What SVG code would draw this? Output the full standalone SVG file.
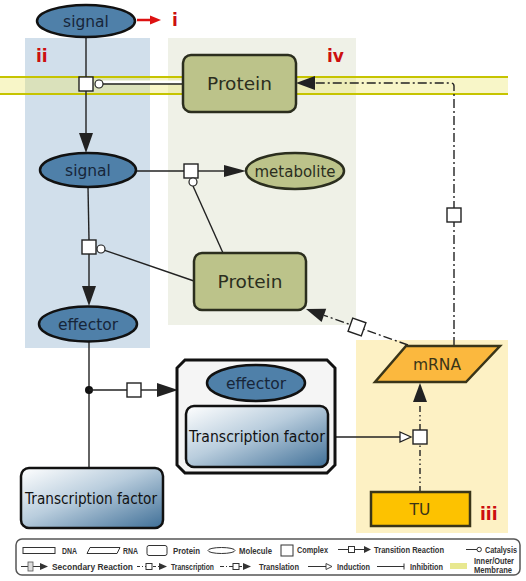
<svg xmlns="http://www.w3.org/2000/svg" width="526" height="581" viewBox="0 0 526 581">
<defs>
<linearGradient id="tfg" x1="0" y1="0" x2="1" y2="1">
<stop offset="0" stop-color="#ffffff"/>
<stop offset="0.45" stop-color="#b9cddd"/>
<stop offset="1" stop-color="#3f6f97"/>
</linearGradient>
<style>
.t{font-family:"DejaVu Sans","Liberation Sans",sans-serif;text-anchor:middle}
.mol{fill:#4f80a9;stroke:#111;stroke-width:2.5}
.mt{fill:#17263a;font-size:15.5px}
.ol{fill:#bcc38a;stroke:#2b2e1e;stroke-width:2.5}
.olt{fill:#2b2e1e}
.ln{stroke:#222;stroke-width:1.4;fill:none}
.ah{fill:#222;stroke:none}
.sq{fill:#fff;stroke:#222;stroke-width:1.4}
.cc{fill:#fff;stroke:#222;stroke-width:1.2}
.tr{stroke:#222;stroke-width:1.4;fill:none;stroke-dasharray:9 3 2 3}
.tc{stroke:#222;stroke-width:1.4;fill:none;stroke-dasharray:6 3 1.5 3 1.5 3}
.red{fill:#cc0f0f;font-family:"DejaVu Sans","Liberation Sans",sans-serif;font-weight:bold;font-size:17px}
.lg{font-family:"Liberation Sans",Arial,sans-serif;font-weight:bold;font-size:8.4px;fill:#333}
.ls{stroke:#333;stroke-width:1;fill:none}
.mem{stroke:#c6c400;stroke-width:2}
</style>
</defs>
<g id="panels">
<rect x="25" y="38" width="125" height="310" fill="#d1dfeb"/>
<rect x="168" y="38" width="188" height="287" fill="#eff1e7"/>
<rect x="356" y="340" width="152" height="193" fill="#fdf1c4"/>
</g>
<g id="membrane">
<rect x="0" y="77" width="508" height="17" fill="#ece660" fill-opacity="0.35"/>
<line class="mem" x1="0" y1="77" x2="508" y2="77"/>
<line class="mem" x1="0" y1="94" x2="508" y2="94"/>
</g>
<g id="region-labels">
<line x1="137" y1="20" x2="151" y2="20" stroke="#dd1111" stroke-width="2.5"/>
<polygon points="150,15.5 161,20 150,24.5" fill="#dd1111"/>
<text class="red" x="172" y="26">i</text>
<text class="red" x="36" y="62">ii</text>
<text class="red" x="480" y="520">iii</text>
<text class="red" x="327" y="62">iv</text>
</g>
<g id="connectors">
<line class="ln" x1="86" y1="37" x2="86" y2="77"/>
<line class="ln" x1="86" y1="91" x2="86" y2="134"/>
<polygon class="ah" points="79,133 93,133 86,153"/>
<line x1="103" y1="82" x2="183" y2="82" stroke="#fff" stroke-width="3"/>
<line class="ln" x1="103" y1="84" x2="183" y2="84"/>
<line class="ln" x1="136" y1="171" x2="184" y2="171"/>
<line class="ln" x1="198" y1="171" x2="226" y2="171"/>
<polygon class="ah" points="224,165 246,171 224,177"/>
<line class="ln" x1="193" y1="186" x2="223" y2="253"/>
<line class="ln" x1="88" y1="187" x2="89" y2="240"/>
<line class="ln" x1="89" y1="254" x2="89" y2="288"/>
<polygon class="ah" points="82,286 96,286 89,306"/>
<line class="ln" x1="104.8" y1="250.3" x2="194" y2="281"/>
<line class="ln" x1="89" y1="342" x2="89" y2="468"/>
<circle cx="89" cy="390" r="4" fill="#111"/>
<line class="ln" x1="89" y1="390" x2="127" y2="390"/>
<line class="ln" x1="141" y1="390" x2="159" y2="390"/>
<polygon class="ah" points="157,383 178,390 157,397"/>
<line class="ln" x1="328" y1="437" x2="400" y2="437"/>
<polygon points="400,432 411,437 400,442" fill="#fff" stroke="#222" stroke-width="1.3"/>
<line class="tc" x1="420" y1="492" x2="420" y2="444"/>
<line class="tc" x1="420" y1="430" x2="420" y2="403"/>
<polygon class="ah" points="413,402 420,383 427,402"/>
<path class="tr" d="M454,346 V86 Q454,83 451,83 H314"/>
<polygon class="ah" points="315,76 296,83 315,90"/>
<line class="tr" x1="408" y1="345" x2="324" y2="315.3"/>
<polygon class="ah" points="326.2,308.7 306,309 321.6,321.9"/>
</g>
<g id="reaction-boxes">
<rect class="sq" x="79" y="77" width="14" height="14"/>
<circle class="cc" cx="99" cy="84" r="4"/>
<rect class="sq" x="184" y="164" width="14" height="14"/>
<circle class="cc" cx="193" cy="182" r="4"/>
<rect class="sq" x="82" y="240" width="14" height="14"/>
<circle class="cc" cx="101" cy="249" r="4"/>
<rect class="sq" x="127" y="383" width="14" height="14"/>
<rect class="sq" x="413" y="430" width="14" height="14"/>
<rect class="sq" x="447" y="208" width="14" height="14"/>
<rect class="sq" x="350" y="320" width="14" height="14" transform="rotate(19.4 357 327)"/>
</g>
<g id="node-signal-top">
<ellipse class="mol" cx="86" cy="21" rx="49" ry="16"/>
<text class="t mt" x="86" y="26.5">signal</text>
</g>
<g id="node-protein-membrane">
<rect class="ol" x="183" y="55" width="113" height="57" rx="8"/>
<text class="t olt" x="239.5" y="90" font-size="18.5">Protein</text>
</g>
<g id="node-signal">
<ellipse class="mol" cx="88" cy="170" rx="48" ry="17"/>
<text class="t mt" x="88" y="175.5">signal</text>
</g>
<g id="node-metabolite">
<ellipse class="ol" cx="295" cy="171" rx="49" ry="18"/>
<text class="t olt" x="295" y="176.5" font-size="15">metabolite</text>
</g>
<g id="node-protein">
<rect class="ol" x="194" y="253" width="112" height="57" rx="8"/>
<text class="t olt" x="250" y="288" font-size="18.5">Protein</text>
</g>
<g id="node-effector">
<ellipse class="mol" cx="88" cy="324" rx="49" ry="17.5"/>
<text class="t mt" x="88" y="329.5">effector</text>
</g>
<g id="node-complex">
<polygon points="185,360 327,360 335,368 335,465 327,473 185,473 177,465 177,368" fill="#f5f5f5" stroke="#111" stroke-width="3"/>
<ellipse class="mol" cx="256" cy="383" rx="49" ry="18"/>
<text class="t mt" x="256" y="388.5">effector</text>
<rect x="186" y="406" width="142" height="61" rx="8" fill="url(#tfg)" stroke="#111" stroke-width="2.5"/>
<text class="t" x="257" y="442" font-size="15" fill="#111" textLength="136" lengthAdjust="spacingAndGlyphs">Transcription factor</text>
</g>
<g id="node-tf">
<rect x="21" y="468" width="142" height="60" rx="8" fill="url(#tfg)" stroke="#111" stroke-width="2.5"/>
<text class="t" x="91" y="504" font-size="15" fill="#111" textLength="132" lengthAdjust="spacingAndGlyphs">Transcription factor</text>
</g>
<g id="node-mrna">
<polygon points="406,346 500,346 466,382 375,382" fill="#fbb83e" stroke="#3a3518" stroke-width="2.5"/>
<text class="t" x="437" y="370" font-size="15.5" fill="#3a3518">mRNA</text>
</g>
<g id="node-tu">
<rect x="371" y="492" width="99" height="34" fill="#fdc200" stroke="#3a3518" stroke-width="2.5"/>
<text class="t" x="420" y="515" font-size="15.5" fill="#3a3518">TU</text>
</g>
<g id="legend">
<rect x="16" y="539" width="504" height="36" rx="6" fill="#fff" stroke="#555" stroke-width="1.5"/>
<rect class="ls" x="23" y="547.5" width="32" height="6"/>
<text class="lg" x="62" y="554" textLength="15" lengthAdjust="spacingAndGlyphs">DNA</text>
<polygon class="ls" points="90,547.5 120,547.5 117,553.5 87,553.5"/>
<text class="lg" x="123" y="554" textLength="15" lengthAdjust="spacingAndGlyphs">RNA</text>
<rect class="ls" x="147" y="545.5" width="20" height="10" rx="2"/>
<text class="lg" x="173" y="554" textLength="27" lengthAdjust="spacingAndGlyphs">Protein</text>
<ellipse class="ls" cx="221.5" cy="550.5" rx="13.5" ry="3"/>
<text class="lg" x="239" y="554" textLength="33" lengthAdjust="spacingAndGlyphs">Molecule</text>
<rect class="ls" x="281" y="545" width="12" height="11"/>
<text class="lg" x="297" y="553" textLength="31" lengthAdjust="spacingAndGlyphs">Complex</text>
<line class="ls" x1="338" y1="549.5" x2="365" y2="549.5"/>
<rect x="348.5" y="546.5" width="6" height="6" fill="#fff" stroke="#333"/>
<polygon points="364,546 371,549.5 364,553" fill="#333"/>
<text class="lg" x="374" y="553" textLength="70" lengthAdjust="spacingAndGlyphs">Transition Reaction</text>
<line class="ls" x1="466" y1="549.5" x2="477" y2="549.5"/>
<circle cx="479.2" cy="549.5" r="2.2" fill="#fff" stroke="#333"/>
<text class="lg" x="485" y="553" textLength="32" lengthAdjust="spacingAndGlyphs">Catalysis</text>
<line class="ls" x1="21" y1="566.5" x2="42" y2="566.5"/>
<rect x="28" y="562" width="5" height="9" fill="#ddd" stroke="#555" stroke-width="0.8"/>
<polygon points="40,563 48,566.5 40,570" fill="#333"/>
<text class="lg" x="52" y="569.5" textLength="81" lengthAdjust="spacingAndGlyphs">Secondary Reaction</text>
<line x1="137" y1="566.5" x2="159" y2="566.5" stroke="#333" stroke-width="1" stroke-dasharray="3 2 1 2"/>
<rect x="146" y="563.5" width="6" height="6" fill="#fff" stroke="#333"/>
<polygon points="159,563 167,566.5 159,570" fill="#333"/>
<text class="lg" x="171" y="569.5" textLength="43" lengthAdjust="spacingAndGlyphs">Transcription</text>
<line x1="220" y1="566.5" x2="244" y2="566.5" stroke="#333" stroke-width="1" stroke-dasharray="4 2 1 2"/>
<rect x="233" y="563.5" width="6" height="6" fill="#fff" stroke="#333"/>
<polygon points="243,563 251,566.5 243,570" fill="#333"/>
<text class="lg" x="259" y="569.5" textLength="40" lengthAdjust="spacingAndGlyphs">Translation</text>
<line class="ls" x1="308" y1="566.5" x2="326" y2="566.5"/>
<polygon points="326,563.5 332,566.5 326,569.5" fill="#fff" stroke="#333" stroke-width="0.9"/>
<text class="lg" x="337" y="569.5" textLength="33" lengthAdjust="spacingAndGlyphs">Induction</text>
<line class="ls" x1="377" y1="566.5" x2="404" y2="566.5"/>
<line class="ls" x1="404" y1="563.5" x2="404" y2="569.5"/>
<text class="lg" x="410" y="569.5" textLength="33" lengthAdjust="spacingAndGlyphs">Inhibition</text>
<rect x="450" y="563" width="17" height="6" fill="#e8e890"/>
<text class="lg" x="474" y="563.5" textLength="40" lengthAdjust="spacingAndGlyphs">Inner/Outer</text>
<text class="lg" x="474" y="573" textLength="38" lengthAdjust="spacingAndGlyphs">Membrane</text>
</g>
</svg>
